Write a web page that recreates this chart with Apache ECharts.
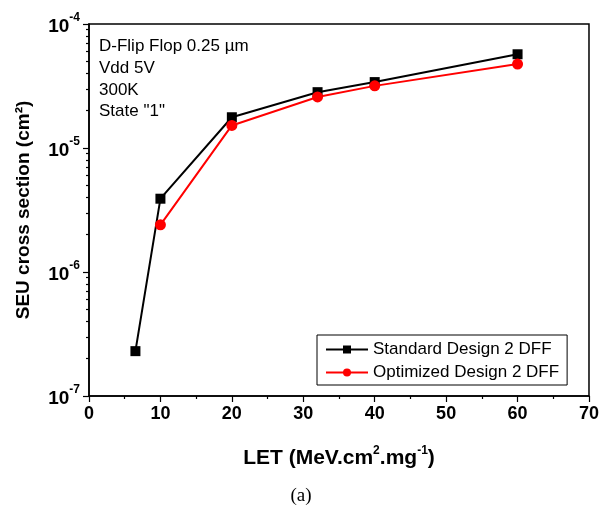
<!DOCTYPE html>
<html>
<head>
<meta charset="utf-8">
<script src="https://cdn.jsdelivr.net/npm/echarts@6/dist/echarts.min.js"></script>
<style>
  html, body { margin: 0; padding: 0; background: #fff; }
  #chart { width: 602px; height: 509px; }
</style>
</head>
<body>
<div id="chart"></div>
<script>
// LET values (MeV.cm2/mg)
const letStandard = [6.5, 10, 20, 32, 40, 60]
const seuStandard = [2.3e-7, 3.9e-6, 1.77e-5, 2.82e-5, 3.4e-5, 5.7e-5]
const letOptimized = [10, 20, 32, 40, 60]
const seuOptimized = [2.4e-6, 1.52e-5, 2.58e-5, 3.17e-5, 4.75e-5]

const seriesNames = ['Standard Design 2 DFF', 'Optimized Design 2 DFF']
const infoLines = ['D-Flip Flop 0.25 µm', 'Vdd 5V', '300K', 'State "1"']
const yExponents = [-7, -6, -5, -4]

// minor ticks of the log axis (2..9 x 10^n), in log10 space
const yMinorTicks = []
for (let e = -7; e < -4; e++) {
  for (let k = 2; k <= 9; k++) yMinorTicks.push(e + Math.log10(k))
}

const chart = echarts.init(document.getElementById('chart'))
const font = '"Liberation Sans", Arial, sans-serif'

chart.setOption({
  backgroundColor: '#fff',
  animation: false,
  grid: {
    left: 89, right: 13, top: 24, bottom: 113,
    show: true, borderColor: '#000', borderWidth: 1.5
  },
  legend: {
    orient: 'vertical',
    left: 317, top: 335,
    padding: [6, 8, 4, 8],
    itemWidth: 42, itemHeight: 10, itemGap: 6,
    borderColor: '#000', borderWidth: 1,
    textStyle: { fontFamily: font, fontSize: 17, color: '#000' },
    data: seriesNames
  },
  xAxis: {
    type: 'value',
    min: 0, max: 70, interval: 10,
    name: '{t|LET (MeV.cm}{s|2}{t|.mg}{s|-1}{t|)}',
    nameLocation: 'middle',
    nameGap: 49,
    nameTextStyle: {
      rich: {
        t: { fontFamily: font, fontSize: 21, fontWeight: 'bold', color: '#000', lineHeight: 24, verticalAlign: 'bottom' },
        s: { fontFamily: font, fontSize: 12, fontWeight: 'bold', color: '#000', lineHeight: 24, verticalAlign: 'top' }
      }
    },
    axisLine: { onZero: false, lineStyle: { color: '#000', width: 1.5 } },
    axisTick: { length: 6, lineStyle: { color: '#000', width: 1.2 } },
    minorTick: { show: true, splitNumber: 2, length: 3, lineStyle: { color: '#000', width: 1.2 } },
    splitLine: { show: false },
    axisLabel: { margin: 9, fontFamily: font, fontSize: 18, fontWeight: 'bold', color: '#000' }
  },
  yAxis: [
    {
      type: 'log',
      min: 1e-7, max: 1e-4,
      logBase: 10,
      name: 'SEU cross section (cm²)',
      nameLocation: 'middle',
      nameGap: 56,
      nameRotate: 90,
      nameTextStyle: { fontFamily: font, fontSize: 19, fontWeight: 'bold', color: '#000' },
      axisLine: { lineStyle: { color: '#000', width: 1.5 } },
      axisTick: { length: 6, lineStyle: { color: '#000', width: 1.2 } },
      splitLine: { show: false },
      axisLabel: {
        margin: 9,
        formatter: function (v) {
          const e = Math.round(Math.log10(v))
          return yExponents.indexOf(e) >= 0 ? '{b|10}{s|' + e + '}' : ''
        },
        rich: {
          b: { fontFamily: font, fontSize: 19, fontWeight: 'bold', color: '#000', lineHeight: 24, verticalAlign: 'bottom' },
          s: { fontFamily: font, fontSize: 12, fontWeight: 'bold', color: '#000', lineHeight: 24, verticalAlign: 'top' }
        }
      }
    },
    {
      // helper axis for the minor ticks of the log axis
      type: 'value',
      position: 'left',
      min: -7, max: -4,
      axisLine: { show: false },
      axisLabel: { show: false },
      splitLine: { show: false },
      axisTick: { show: true, length: 3, customValues: yMinorTicks, lineStyle: { color: '#000', width: 1.2 } }
    }
  ],
  graphic: [
    {
      type: 'group',
      left: 99, top: 38,
      children: infoLines.map((t, i) => ({
        type: 'text',
        x: 0, y: i * 21.7,
        style: { text: t, fontFamily: font, fontSize: 17, fill: '#000' }
      }))
    },
    {
      type: 'text',
      left: 'center', top: 487,
      style: { text: '(a)', fontFamily: '"Liberation Serif", "Times New Roman", serif', fontSize: 19, fill: '#000' }
    }
  ],
  series: [
    {
      name: seriesNames[0],
      type: 'line',
      data: letStandard.map((x, i) => [x, seuStandard[i]]),
      symbol: 'rect', symbolSize: 10,
      lineStyle: { color: '#000', width: 2 },
      itemStyle: { color: '#000' }
    },
    {
      name: seriesNames[1],
      type: 'line',
      data: letOptimized.map((x, i) => [x, seuOptimized[i]]),
      symbol: 'circle', symbolSize: 11,
      lineStyle: { color: '#ff0000', width: 2 },
      itemStyle: { color: '#ff0000' }
    }
  ]
})
</script>
</body>
</html>
